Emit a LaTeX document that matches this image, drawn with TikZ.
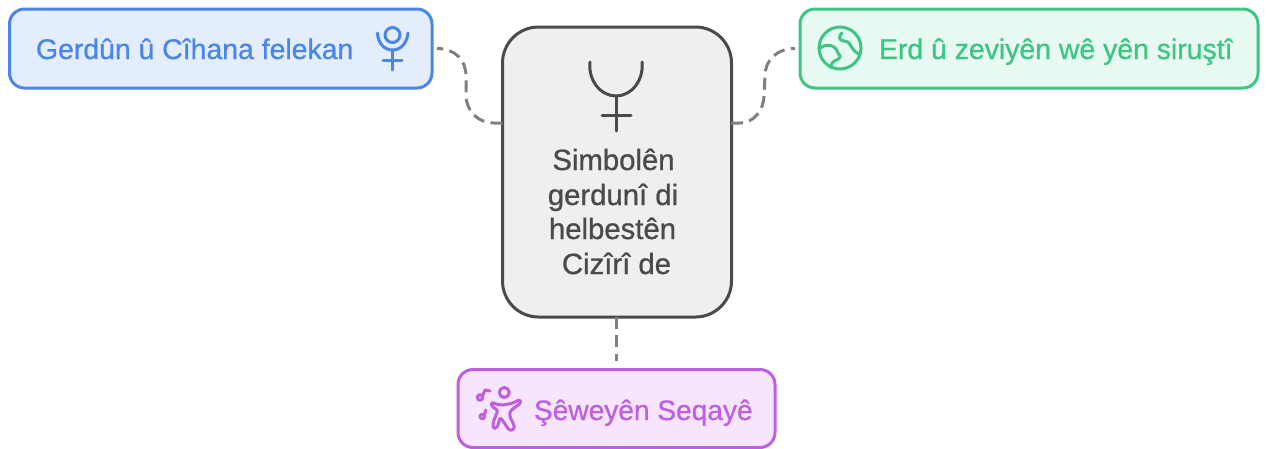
\documentclass[tikz,border=0pt]{standalone}
\usepackage{fontspec}
\setmainfont[FakeBold=0.8]{Liberation Sans}
\definecolor{bluec}{HTML}{4A86E8}\definecolor{bluef}{HTML}{E3EDFD}
\definecolor{greenc}{HTML}{3CC583}\definecolor{greenf}{HTML}{E8F9F2}
\definecolor{purc}{HTML}{BD5FE0}\definecolor{purf}{HTML}{F6E5FD}
\definecolor{darkc}{HTML}{4A4A4A}\definecolor{darkf}{HTML}{EFEFEF}
\definecolor{linkc}{HTML}{808080}
\tikzset{
  x=1pt,y=-1pt,
  boxn/.style={draw=#1,line width=3pt,rounded corners=15pt,inner sep=0pt,outer sep=0pt,anchor=north west},
  lbl/.style={inner sep=0pt,outer sep=0pt,font=\fontsize{28.4}{35}\selectfont,text=#1},
  midl/.style={inner sep=0pt,outer sep=0pt,font=\fontsize{29.3}{35}\selectfont,text=darkc,anchor=base},
  icon/.style={draw=#1,line width=3pt,line cap=round,line join=round,fill=none},
  link/.style={draw=linkc,line width=3pt,dash pattern=on 12pt off 6.4pt},
}
\begin{document}
\begin{tikzpicture}
\useasboundingbox (0,0) rectangle (1267,448);
\begin{scope}
\clip (0,0) rectangle (1267,448);
\coordinate (cl) at (502.5,123);
\coordinate (cr) at (731,123);
\coordinate (cb) at (616.5,317);
\coordinate (bt) at (616.5,370);
\node[boxn=bluec,fill=bluef,minimum width=422.5pt,minimum height=79pt] (blue) at (9.5,9) {};
\node[boxn=greenc,fill=greenf,minimum width=458pt,minimum height=79pt] (green) at (800,9) {};
\node[boxn=purc,fill=purf,minimum width=317pt,minimum height=78pt] (pur) at (458,369.5) {};
\node[boxn=darkc,fill=darkf,minimum width=229pt,minimum height=290pt,rounded corners=36pt] (mid) at (502.5,27) {};
\draw[link,shorten >=5pt] (cl) -- (494,123) .. controls (478,123) and (466,111) .. (466,95) -- (466,76) .. controls (466,60) and (455,48.5) .. (blue.east);
\draw[link,shorten >=5pt] (cr) -- (740,123) .. controls (753,123) and (764,111) .. (764,95) -- (765,76) .. controls (765,60) and (777,48.5) .. (green.west);
\draw[link,shorten >=9pt] (cb) -- (bt);
\node[lbl=bluec,anchor=base west] (t1) at (36,59) {Gerdûn û Cîhana felekan};
\node[lbl=greenc,anchor=base west] (t2) at (879,59) {Erd û zeviyên wê yên siruştî};
\node[lbl=purc,anchor=base west,font=\fontsize{28.1}{35}\selectfont] (t3) at (534,420) {Şêweyên Seqayê};
\node[midl] (t4) at (613.5,170) {Simbolên};
\node[midl] (t5) at (613,205) {gerdunî di};
\node[midl] (t6) at (612.5,239) {helbestên};
\node[midl] (t7) at (616.5,274) {Cizîrî de};
% pluto icon blue
\draw[icon=bluec] (392.5,35) circle (7.5);
\draw[icon=bluec] (377.5,33) .. controls (378,43) and (384,50) .. (392.5,50) .. controls (401,50) and (407,43) .. (408,33);
\draw[icon=bluec] (392.5,50) -- (392.5,70) (383,60) -- (402,60);
% pluto icon centre
\draw[icon=darkc] (590,62) .. controls (588,81) and (601,96) .. (616,96) .. controls (631,96) and (644,81) .. (642,62);
\draw[icon=darkc] (616,96) -- (616,131) (602,115) -- (631,115);
% globe
\draw[icon=greenc] (840,48) circle (21);
\draw[icon=greenc] (820,48) .. controls (824,45) and (830,44) .. (834,47) .. controls (838,50) and (837,53) .. (840,56) .. controls (841,59) and (835,60) .. (833,62) .. controls (831,64) and (831,66) .. (831,68);
\draw[icon=greenc] (842,33) .. controls (838,36) and (839,41) .. (844,41) .. controls (850,41) and (850,46) .. (853,49) .. controls (855,52) and (858,54) .. (860,54);
% dancer
\draw[icon=purc] (504.3,392.5) circle (5);
\draw[icon=purc,rounded corners=2.5pt] (491,402) -- (497,404.5) -- (504,405) -- (513,403) -- (520,399.5) -- (521,403) -- (514,408) -- (509.5,412) -- (510,417) -- (514,425) -- (514.5,429) -- (510,431) -- (507,427) -- (503,421) -- (500,417) -- (499,422) -- (497,428) -- (493,428.5) -- (493,423) -- (496,415) -- (498,410) -- (492,407) -- cycle;
\draw[icon=purc] (480,397.5) circle (2.7) (482.5,396) -- (485,390) -- (490,391);
\draw[icon=purc] (482.3,416.5) circle (2.3) (484.5,415) -- (485.7,410);
\end{scope}
\end{tikzpicture}
\end{document}
